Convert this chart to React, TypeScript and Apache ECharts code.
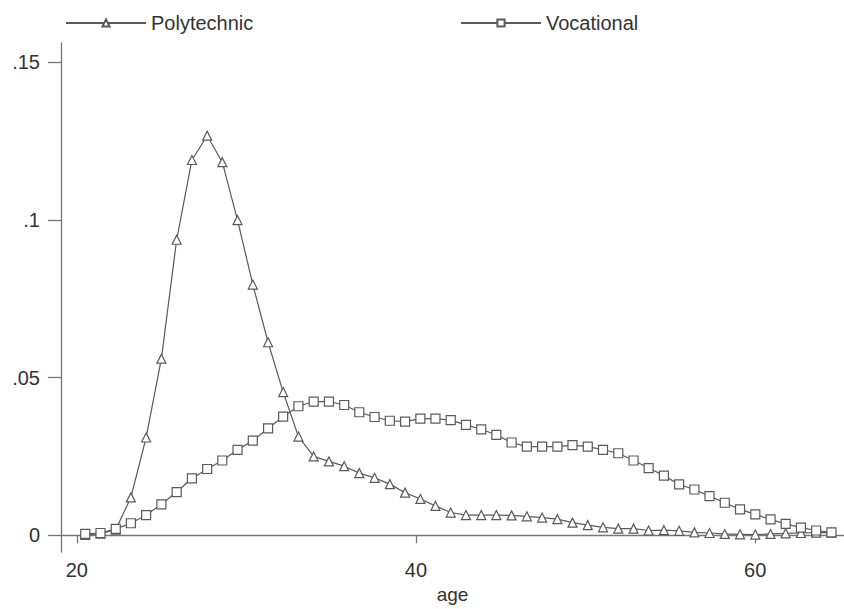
import React, { useEffect, useRef } from "react";
import * as echarts from "echarts";

const ages = [
  20.5, 21.4, 22.3, 23.19, 24.09, 24.99, 25.89, 26.79, 27.69, 28.58,
  29.48, 30.38, 31.28, 32.17, 33.07, 33.97, 34.87, 35.77, 36.66, 37.56,
  38.46, 39.36, 40.26, 41.15, 42.05, 42.95, 43.85, 44.74, 45.64, 46.54,
  47.44, 48.34, 49.23, 50.13, 51.03, 51.93, 52.83, 53.72, 54.62, 55.52,
  56.42, 57.31, 58.21, 59.11, 60.01, 60.91, 61.8, 62.7, 63.6, 64.5,
];

const polytechnic = [
  0.0001, 0.0005, 0.0018, 0.012, 0.031, 0.056, 0.0937, 0.119, 0.1267, 0.1183,
  0.0999, 0.0795, 0.0612, 0.0454, 0.0313, 0.025, 0.0234, 0.0219, 0.0197, 0.0182,
  0.0162, 0.0135, 0.0115, 0.0093, 0.0072, 0.0064, 0.0064, 0.0064, 0.0063, 0.006,
  0.0056, 0.0051, 0.004, 0.0032, 0.0025, 0.0021, 0.0021, 0.0015, 0.0016, 0.0014,
  0.0009, 0.0007, 0.0004, 0.0003, 0.0002, 0.0004, 0.0006, 0.0007, 0.0008, 0.0008,
];

const vocational = [
  0.0004, 0.0007, 0.002, 0.0038, 0.0064, 0.0098, 0.0137, 0.018, 0.021, 0.0237,
  0.0271, 0.03, 0.0339, 0.0376, 0.0409, 0.0424, 0.0424, 0.0413, 0.039, 0.0375,
  0.0363, 0.036, 0.037, 0.037, 0.0365, 0.035, 0.0336, 0.0318, 0.0294, 0.0281,
  0.0281, 0.0281, 0.0286, 0.0281, 0.0271, 0.026, 0.0237, 0.0213, 0.0189, 0.0161,
  0.0145, 0.0124, 0.0103, 0.0082, 0.0066, 0.005, 0.0036, 0.0024, 0.0015, 0.0009,
];

const xTicks = [20, 40, 60];
const yTicks = [0, 0.05, 0.1, 0.15];
const yTickLabels = ["0", ".05", ".1", ".15"];

const FONT = "Liberation Sans, Arial, sans-serif";
const LINE = "#5a5a5a";

export default function App() {
  const ref = useRef<HTMLDivElement>(null);
  useEffect(() => {
    if (!ref.current) return;
    const chart = echarts.init(ref.current, null, { renderer: "svg" });
    const mk = (name: string, vals: number[], symbol: string, size: number) => ({
      name,
      type: "line",
      data: ages.map((a, i) => [a, vals[i]]),
      symbol,
      symbolSize: size,
      showAllSymbol: true,
      lineStyle: { color: LINE, width: 1.2 },
      itemStyle: { color: "#fff", borderColor: LINE, borderWidth: 1.2 },
      emphasis: { disabled: true },
    });
    chart.setOption({
      animation: false,
      backgroundColor: "#fff",
      textStyle: { fontFamily: FONT },
      legend: [
        {
          data: ["Polytechnic"],
          left: 60,
          top: 8,
          itemWidth: 80,
          itemHeight: 9,
          itemGap: 0,
          textStyle: { fontSize: 20, color: "#333", fontFamily: FONT },
        },
        {
          data: ["Vocational"],
          left: 455,
          top: 8,
          itemWidth: 80,
          itemHeight: 9,
          itemGap: 0,
          textStyle: { fontSize: 20, color: "#333", fontFamily: FONT },
        },
      ],
      grid: { left: 61, right: 0, top: 43, bottom: 52.5, containLabel: false },
      xAxis: {
        type: "value",
        min: 19.07,
        max: 65.24,
        name: "age",
        nameLocation: "middle",
        nameGap: 30,
        nameTextStyle: { fontSize: 19, color: "#333", fontFamily: FONT },
        axisLine: { show: true, lineStyle: { color: "#777", width: 1.3 } },
        axisTick: { show: true, customValues: xTicks, length: 8, lineStyle: { color: "#777", width: 1.3 } },
        axisLabel: { customValues: xTicks, fontSize: 20, color: "#333", margin: 8, fontFamily: FONT },
        splitLine: { show: false },
      },
      yAxis: {
        type: "value",
        min: -0.00535,
        max: 0.1561,
        axisLine: { show: true, lineStyle: { color: "#777", width: 1.3 } },
        axisTick: { show: true, customValues: yTicks, length: 13, lineStyle: { color: "#777", width: 1.3 } },
        axisLabel: {
          customValues: yTicks,
          fontSize: 20,
          color: "#333",
          margin: 21,
          fontFamily: FONT,
          formatter: (v: number) => {
            const i = yTicks.findIndex((t) => Math.abs(t - v) < 1e-9);
            return i >= 0 ? yTickLabels[i] : "";
          },
        },
        splitLine: { show: false },
      },
      series: [mk("Polytechnic", polytechnic, "triangle", 9), mk("Vocational", vocational, "rect", 9)],
    });
    return () => chart.dispose();
  }, []);
  return (
    <div
      ref={ref}
      style={{ position: "fixed", left: 0, top: 0, width: 844, height: 609, background: "#fff" }}
    />
  );
}
